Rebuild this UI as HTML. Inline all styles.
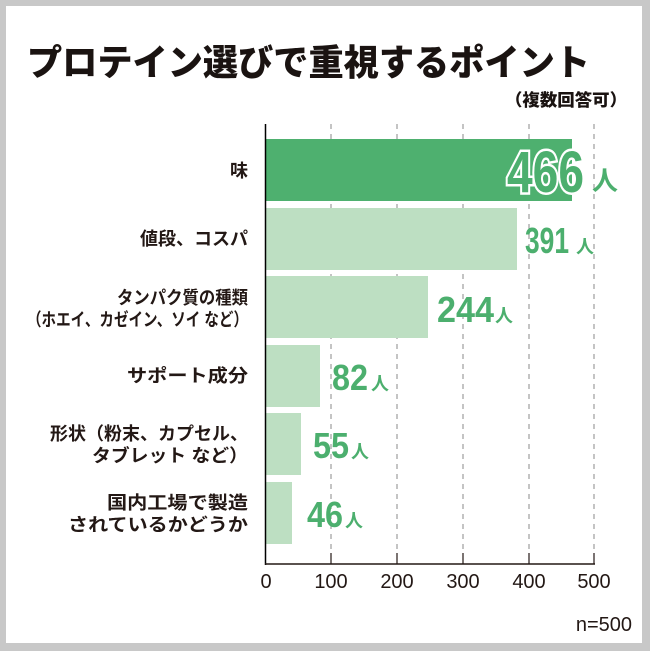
<!DOCTYPE html>
<html><head><meta charset="utf-8"><style>
html,body{margin:0;padding:0;background:#fff}
svg{display:block}
text{font-family:"Liberation Sans","Noto Sans CJK JP",sans-serif}
.j{font-weight:bold;font-size:18px;fill:#231815}
.t{font-size:20px;fill:#231815}
.v{font-weight:bold;fill:#4caf6e}
</style></head><body>
<svg width="650" height="651" viewBox="0 0 650 651">
<rect x="0" y="0" width="650" height="651" fill="#c8c8c8"/>
<rect x="6" y="6" width="636" height="637" fill="#fff"/>
<text x="27" y="75" font-size="36" font-weight="900" fill="#1a1311" textLength="563" lengthAdjust="spacingAndGlyphs" style="font-family:'Noto Sans CJK JP',sans-serif;font-weight:900">プロテイン選びで重視するポイント</text>
<text x="627" y="106" font-size="17" font-weight="900" fill="#1a1311" text-anchor="end" textLength="122" lengthAdjust="spacingAndGlyphs" style="font-family:'Noto Sans CJK JP',sans-serif;font-weight:900">（複数回答可）</text>
<g stroke="#888" stroke-width="1" stroke-dasharray="5,5">
<line x1="331" y1="124" x2="331" y2="564"/>
<line x1="397" y1="124" x2="397" y2="564"/>
<line x1="463" y1="124" x2="463" y2="564"/>
<line x1="529" y1="124" x2="529" y2="564"/>
<line x1="594" y1="124" x2="594" y2="564"/>
</g>
<rect x="265" y="139" width="307" height="62" fill="#4eb06f"/>
<rect x="265" y="208" width="252" height="62" fill="#bddfc2"/>
<rect x="265" y="276" width="163" height="62" fill="#bddfc2"/>
<rect x="265" y="345" width="55" height="62" fill="#bddfc2"/>
<rect x="265" y="413" width="36" height="62" fill="#bddfc2"/>
<rect x="265" y="482" width="27" height="62" fill="#bddfc2"/>
<line x1="265.5" y1="124" x2="265.5" y2="565" stroke="#000" stroke-width="1.5"/>
<line x1="265" y1="564" x2="595" y2="564" stroke="#231815" stroke-width="1.5"/>
<g stroke="#231815" stroke-width="1.2">
<line x1="331" y1="553" x2="331" y2="564"/><line x1="397" y1="553" x2="397" y2="564"/>
<line x1="463" y1="553" x2="463" y2="564"/><line x1="529" y1="553" x2="529" y2="564"/>
<line x1="594" y1="553" x2="594" y2="564"/>
</g>
<g class="t" text-anchor="middle">
<text x="266" y="588">0</text><text x="331" y="588">100</text><text x="397" y="588">200</text>
<text x="463" y="588">300</text><text x="529" y="588">400</text><text x="594" y="588">500</text>
</g>
<text x="632" y="631" class="t" text-anchor="end">n=500</text>
<g class="j" text-anchor="end" lengthAdjust="spacingAndGlyphs">
<text x="248" y="177">味</text>
<text x="248" y="245" textLength="108" lengthAdjust="spacingAndGlyphs">値段、コスパ</text>
<text x="248" y="304" textLength="131" lengthAdjust="spacingAndGlyphs">タンパク質の種類</text>
<text x="248" y="326" textLength="221" lengthAdjust="spacingAndGlyphs">（ホエイ、カゼイン、ソイ など）</text>
<text x="248" y="382" textLength="121" lengthAdjust="spacingAndGlyphs">サポート成分</text>
<text x="248" y="440" textLength="198" lengthAdjust="spacingAndGlyphs">形状（粉末、カプセル、</text>
<text x="248" y="462" textLength="156" lengthAdjust="spacingAndGlyphs">タブレット など）</text>
<text x="248" y="509" textLength="141" lengthAdjust="spacingAndGlyphs">国内工場で製造</text>
<text x="248" y="531" textLength="180" lengthAdjust="spacingAndGlyphs">されているかどうか</text>
</g>
<text x="507" y="192" font-size="58" class="v" stroke="#fff" stroke-width="5" paint-order="stroke" textLength="77" lengthAdjust="spacingAndGlyphs">466</text>
<text x="592" y="190" font-size="26" class="v" style="font-family:'Noto Sans CJK JP',sans-serif">人</text>
<text x="525" y="253" font-size="36" class="v" textLength="44" lengthAdjust="spacingAndGlyphs">391</text>
<text x="576" y="253" font-size="18" class="v" style="font-family:'Noto Sans CJK JP',sans-serif">人</text>
<text x="437" y="322" font-size="36" class="v" textLength="57" lengthAdjust="spacingAndGlyphs">244</text>
<text x="495" y="322" font-size="18" class="v" style="font-family:'Noto Sans CJK JP',sans-serif">人</text>
<text x="332" y="390" font-size="36" class="v" textLength="36" lengthAdjust="spacingAndGlyphs">82</text>
<text x="371" y="390" font-size="18" class="v" style="font-family:'Noto Sans CJK JP',sans-serif">人</text>
<text x="313" y="458" font-size="36" class="v" textLength="36" lengthAdjust="spacingAndGlyphs">55</text>
<text x="351" y="458" font-size="18" class="v" style="font-family:'Noto Sans CJK JP',sans-serif">人</text>
<text x="307" y="527" font-size="36" class="v" textLength="36" lengthAdjust="spacingAndGlyphs">46</text>
<text x="345" y="527" font-size="18" class="v" style="font-family:'Noto Sans CJK JP',sans-serif">人</text>
</svg>
</body></html>
